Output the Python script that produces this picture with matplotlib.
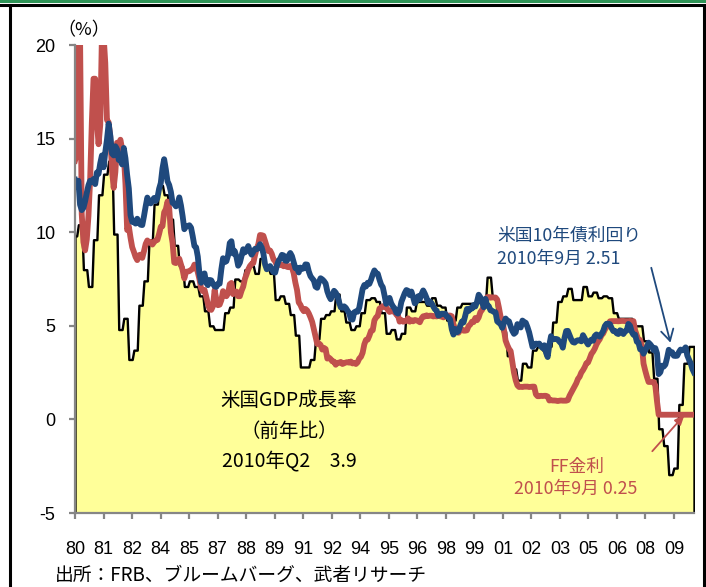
import numpy as np
import matplotlib.pyplot as plt
from matplotlib.patches import Rectangle
from matplotlib.lines import Line2D

# ---------------------------------------------------------------- data
# Nominal GDP, year-on-year % (quarterly, 1979Q4 .. 2010Q2)
gdp_yoy_q = [
    9.8,
    10.4, 8.0, 7.1, 9.6,     # 1980
    12.0, 13.1, 13.8, 9.9,   # 1981
    4.8, 5.4, 3.2, 3.7,      # 1982
    6.1, 7.4, 9.6, 11.5,     # 1983
    12.5, 12.0, 10.7, 9.3,   # 1984
    8.2, 7.1, 7.4, 7.1,      # 1985
    6.6, 5.8, 5.0, 4.8,      # 1986
    4.8, 5.7, 6.0, 7.5,      # 1987
    7.4, 8.0, 8.2, 7.8,      # 1988
    8.6, 8.1, 7.8, 6.4,      # 1989
    6.6, 6.2, 5.6, 4.5,      # 1990
    2.8, 2.8, 3.2, 4.3,      # 1991
    5.4, 5.6, 5.8, 6.7,      # 1992
    5.8, 5.2, 4.8, 5.0,      # 1993
    5.7, 6.4, 6.5, 6.3,      # 1994
    5.7, 4.6, 4.8, 4.3,      # 1995
    4.6, 6.0, 5.8, 6.3,      # 1996
    6.3, 6.1, 6.5, 6.1,      # 1997
    6.0, 5.3, 5.3, 6.0,      # 1998
    6.2, 6.2, 6.2, 6.5,      # 1999
    6.2, 7.6, 6.6, 5.5,      # 2000
    4.7, 3.4, 2.7, 2.1,      # 2001
    3.0, 2.8, 3.7, 3.9,      # 2002
    3.7, 3.9, 5.2, 6.3,      # 2003
    6.6, 7.0, 6.4, 6.4,      # 2004
    7.1, 6.6, 6.8, 6.5,      # 2005
    6.6, 6.5, 5.7, 5.4,      # 2006
    5.4, 5.4, 5.0, 5.0,      # 2007
    4.2, 3.6, 2.2, -0.5,     # 2008
    -1.4, -2.95, -2.6, 0.8,  # 2009
    3.0, 3.9,                # 2010
]

# Federal funds rate, % (monthly, 1980-01 .. 2010-09)
ff_rate = [
    13.82, 14.13, 20.50, 20.50, 10.98, 9.47, 9.03, 9.61, 10.87, 12.81, 15.85, 18.20,
    18.20, 15.93, 14.70, 15.72, 20.50, 20.50, 19.04, 16.00, 15.87, 15.08, 13.31, 12.37,
    13.22, 14.78, 14.68, 14.94, 14.45, 14.15, 12.59, 10.12, 10.31, 9.71, 9.20, 8.95,
    8.68, 8.51, 8.77, 8.80, 8.63, 8.98, 9.37, 9.56, 9.45, 9.48, 9.34, 9.47,
    9.56, 9.59, 9.91, 10.29, 10.32, 11.06, 11.23, 11.64, 11.30, 9.99, 9.43, 8.38,
    8.35, 8.50, 8.58, 8.27, 7.97, 7.53, 7.88, 7.90, 7.92, 7.99, 8.05, 8.27,
    8.14, 7.86, 7.48, 6.99, 6.85, 6.92, 6.56, 6.17, 5.89, 5.85, 6.04, 6.91,
    6.43, 6.10, 6.13, 6.37, 6.85, 6.73, 6.58, 6.73, 7.22, 7.29, 6.69, 6.77,
    6.83, 6.58, 6.58, 6.87, 7.09, 7.51, 7.75, 8.01, 8.19, 8.30, 8.35, 8.76,
    9.12, 9.36, 9.85, 9.84, 9.81, 9.53, 9.24, 8.99, 9.02, 8.84, 8.55, 8.45,
    8.23, 8.24, 8.28, 8.26, 8.18, 8.29, 8.15, 8.13, 8.20, 8.11, 7.81, 7.31,
    6.91, 6.25, 6.12, 5.91, 5.78, 5.90, 5.82, 5.66, 5.45, 5.21, 4.81, 4.43,
    4.03, 4.06, 3.98, 3.73, 3.82, 3.76, 3.25, 3.30, 3.22, 3.10, 3.09, 2.92,
    3.02, 3.03, 3.07, 2.96, 3.00, 3.04, 3.06, 3.03, 3.09, 2.99, 3.02, 2.96,
    3.05, 3.25, 3.34, 3.56, 4.01, 4.25, 4.26, 4.47, 4.73, 4.76, 5.29, 5.45,
    5.53, 5.92, 5.98, 6.05, 6.01, 6.00, 5.85, 5.74, 5.80, 5.76, 5.80, 5.60,
    5.56, 5.22, 5.31, 5.22, 5.24, 5.27, 5.40, 5.22, 5.30, 5.24, 5.31, 5.29,
    5.25, 5.19, 5.39, 5.51, 5.50, 5.56, 5.52, 5.54, 5.54, 5.50, 5.52, 5.50,
    5.56, 5.51, 5.49, 5.45, 5.49, 5.56, 5.54, 5.55, 5.51, 5.07, 4.83, 4.68,
    4.63, 4.76, 4.81, 4.74, 4.74, 4.76, 4.99, 5.07, 5.22, 5.20, 5.42, 5.30,
    5.45, 5.73, 5.85, 6.02, 6.27, 6.53, 6.54, 6.50, 6.52, 6.51, 6.51, 6.40,
    5.98, 5.49, 5.31, 4.80, 4.21, 3.97, 3.77, 3.65, 3.07, 2.49, 2.09, 1.82,
    1.73, 1.74, 1.73, 1.75, 1.75, 1.75, 1.73, 1.74, 1.75, 1.75, 1.34, 1.24,
    1.24, 1.26, 1.25, 1.26, 1.26, 1.22, 1.01, 1.03, 1.01, 1.01, 1.00, 0.98,
    1.00, 1.01, 1.00, 1.00, 1.00, 1.03, 1.26, 1.43, 1.61, 1.76, 1.93, 2.16,
    2.28, 2.50, 2.63, 2.79, 3.00, 3.04, 3.26, 3.50, 3.62, 3.78, 4.00, 4.16,
    4.29, 4.49, 4.59, 4.79, 4.94, 4.99, 5.24, 5.25, 5.25, 5.25, 5.25, 5.24,
    5.25, 5.26, 5.26, 5.25, 5.25, 5.25, 5.26, 5.25, 5.25, 4.76, 4.49, 4.24,
    4.24, 3.94, 2.98, 2.61, 2.28, 2.00, 2.00, 2.00, 2.00, 1.81, 0.97, 0.25,
    0.25, 0.25, 0.25, 0.25, 0.25, 0.25, 0.25, 0.25, 0.25, 0.25, 0.25, 0.25,
    0.25, 0.25, 0.25, 0.25, 0.25, 0.25, 0.25, 0.25, 0.25,
]

# US 10-year Treasury yield, % (monthly, 1980-01 .. 2010-09)
ust10y = [
    12.80, 12.41, 12.75, 11.47, 11.18, 11.30, 11.65, 12.10, 12.51, 12.75, 12.68, 12.84,
    12.57, 13.19, 13.12, 13.68, 14.10, 13.47, 14.28, 14.94, 15.80, 15.15, 14.20, 14.10,
    14.59, 14.43, 13.86, 13.87, 13.62, 14.50, 13.95, 13.06, 12.34, 10.91, 10.55, 10.54,
    10.46, 10.72, 10.51, 10.40, 10.38, 10.85, 11.38, 11.85, 11.65, 11.54, 11.69, 11.83,
    11.67, 11.84, 12.32, 12.63, 13.41, 13.90, 13.36, 12.72, 12.52, 12.16, 11.57, 11.50,
    11.38, 11.51, 11.86, 11.43, 10.85, 10.16, 10.31, 10.33, 10.37, 10.24, 9.78, 9.26,
    9.19, 8.70, 7.78, 7.30, 7.71, 7.80, 7.30, 7.17, 7.45, 7.43, 7.25, 7.11,
    7.08, 7.25, 7.25, 8.02, 8.61, 8.40, 8.45, 8.76, 9.42, 9.52, 8.86, 8.99,
    8.67, 8.21, 8.37, 8.72, 9.09, 8.92, 9.06, 9.26, 8.98, 8.80, 8.96, 9.11,
    9.09, 9.17, 9.36, 9.18, 8.86, 8.28, 8.02, 8.11, 8.19, 8.01, 7.87, 7.84,
    8.21, 8.47, 8.59, 8.79, 8.76, 8.48, 8.47, 8.75, 8.89, 8.72, 8.39, 8.08,
    8.09, 7.85, 8.11, 8.04, 8.07, 8.28, 8.27, 7.90, 7.65, 7.53, 7.42, 7.09,
    7.03, 7.34, 7.54, 7.48, 7.39, 7.26, 6.84, 6.59, 6.42, 6.59, 6.87, 6.77,
    6.60, 6.26, 5.98, 5.97, 6.04, 5.96, 5.81, 5.68, 5.36, 5.33, 5.72, 5.77,
    5.75, 5.97, 6.48, 6.97, 7.18, 7.10, 7.30, 7.24, 7.46, 7.74, 7.96, 7.81,
    7.78, 7.47, 7.20, 7.06, 6.63, 6.17, 6.28, 6.49, 6.20, 6.04, 5.93, 5.71,
    5.65, 5.81, 6.27, 6.51, 6.74, 6.91, 6.87, 6.64, 6.83, 6.53, 6.20, 6.30,
    6.58, 6.42, 6.69, 6.89, 6.71, 6.49, 6.22, 6.30, 6.21, 6.03, 5.88, 5.81,
    5.54, 5.57, 5.65, 5.64, 5.65, 5.50, 5.46, 5.34, 4.81, 4.53, 4.83, 4.65,
    4.72, 5.00, 5.23, 5.18, 5.54, 5.90, 5.79, 5.94, 5.92, 6.11, 6.03, 6.28,
    6.66, 6.52, 6.26, 5.99, 6.44, 6.10, 6.05, 5.83, 5.80, 5.74, 5.72, 5.24,
    5.16, 5.10, 4.89, 5.14, 5.39, 5.28, 5.24, 4.97, 4.73, 4.57, 4.65, 5.09,
    5.04, 4.91, 5.28, 5.21, 5.16, 4.93, 4.65, 4.26, 3.87, 3.94, 4.05, 4.03,
    4.05, 3.90, 3.81, 3.96, 3.57, 3.33, 3.98, 4.45, 4.27, 4.29, 4.30, 4.27,
    4.15, 4.08, 3.83, 4.35, 4.72, 4.73, 4.50, 4.28, 4.13, 4.10, 4.19, 4.23,
    4.22, 4.17, 4.50, 4.34, 4.14, 4.00, 4.18, 4.26, 4.20, 4.46, 4.54, 4.47,
    4.42, 4.57, 4.72, 4.99, 5.11, 5.11, 5.09, 4.88, 4.72, 4.73, 4.60, 4.56,
    4.76, 4.72, 4.56, 4.69, 4.75, 5.10, 5.00, 4.67, 4.52, 4.53, 4.15, 4.10,
    3.74, 3.74, 3.51, 3.68, 3.88, 4.10, 4.01, 3.89, 3.69, 3.81, 3.53, 2.42,
    2.52, 2.87, 2.82, 2.93, 3.29, 3.72, 3.56, 3.59, 3.40, 3.39, 3.40, 3.59,
    3.73, 3.69, 3.73, 3.85, 3.42, 3.20, 3.01, 2.70, 2.51,
]

tick_labels = ["80", "81", "82", "84", "85", "87", "88", "89", "91", "92", "94",
               "95", "96", "98", "99", "01", "02", "03", "05", "06", "08", "09"]
tick_step_years = 1.413

# ---------------------------------------------------------------- series
n_months = len(ust10y)
x = 1980 + np.arange(n_months) / 12.0
ff = np.array(ff_rate)
bond = np.array(ust10y)
# each quarterly figure is carried on the monthly axis from two months after quarter start
q_index = np.minimum((np.arange(n_months) + 1) // 3, len(gdp_yoy_q) - 1)
gdp = np.array(gdp_yoy_q)[q_index]

# ---------------------------------------------------------------- figure
W, H = 706, 587
fig = plt.figure(figsize=(W / 100, H / 100), dpi=100)
fig.patch.set_facecolor("white")

def fx(px):
    return px / W

def fy(py):
    return 1 - py / H

ax = fig.add_axes([fx(75), fy(513), fx(694) - fx(75), fy(45) - fy(513)])
ax.set_xlim(x[0], x[-1])
ax.set_ylim(-5, 20)

JP = ["Noto Sans CJK JP", "DejaVu Sans"]
NUM = ["Liberation Sans", "DejaVu Sans"]
GRAY = "#868686"
RED = "#C0504D"
BLUE = "#1F497D"

# GDP area with black outline
ax.fill_between(x, gdp, -5, facecolor="#FFFF99", edgecolor="black",
                linewidth=1.7, zorder=1)
ax.plot(x, ff, color=RED, lw=4.2, solid_joinstyle="round", zorder=3)
ax.plot(x, bond, color=BLUE, lw=4.2, solid_joinstyle="round", zorder=4)

for side in ("top", "right"):
    ax.spines[side].set_visible(False)
for side in ("left", "bottom"):
    ax.spines[side].set_color(GRAY)
    ax.spines[side].set_linewidth(1.6)
    ax.spines[side].set_zorder(5)

ax.set_yticks([-5, 0, 5, 10, 15, 20])
ax.set_yticklabels(["-5", "0", "5", "10", "15", "20"], family=NUM, fontsize=13)
ticks_x = 1980 + tick_step_years * np.arange(len(tick_labels))
ax.set_xticks(ticks_x)
ax.set_xticklabels(tick_labels, family=NUM, fontsize=13)
ax.tick_params(axis="y", direction="out", length=4, width=1.6, color=GRAY, pad=10)
ax.tick_params(axis="x", direction="out", length=4, width=1.6, color=GRAY, pad=16)
ax.set_facecolor("white")

# unit label
fig.text(fx(57), fy(30), "（%）", family=JP, fontsize=13, va="center", ha="left")

# annotations
gdp_kw = dict(family=JP, fontsize=14, ha="center", va="center")
ax.text(1990.6, 1.0, "米国GDP成長率", **gdp_kw)
ax.text(1990.6, -0.65, "（前年比）", **gdp_kw)
ax.text(1990.6, -2.2, "2010年Q2　3.9", **gdp_kw)

fig.text(fx(497), fy(236), "米国10年債利回り", family=JP, fontsize=12.8, color=BLUE,
         ha="left", va="center")
fig.text(fx(497), fy(259), "2010年9月 2.51", family=JP, fontsize=12.8, color=BLUE,
         ha="left", va="center")
fig.text(fx(577), fy(467), "FF金利", family=JP, fontsize=12.8, color=RED,
         ha="center", va="center")
fig.text(fx(576), fy(489), "2010年9月 0.25", family=JP, fontsize=12.8, color=RED,
         ha="center", va="center")

ax.annotate("", xy=(2009.5, 4.1), xytext=(2008.55, 8.1),
            arrowprops=dict(arrowstyle="->,head_length=0.8,head_width=0.45",
                            color=BLUE, lw=1.3, shrinkA=0, shrinkB=0), zorder=6)
ax.annotate("", xy=(2010.2, 0.25), xytext=(2008.6, -1.7),
            arrowprops=dict(arrowstyle="-|>,head_length=0.6,head_width=0.25",
                            color=RED, lw=1.3, shrinkA=0, shrinkB=0), zorder=6)

# source note
fig.text(fx(55), fy(575), "出所：FRB、ブルームバーグ、武者リサーチ", family=JP,
         fontsize=13.5, ha="left", va="center")

# frame
fig.add_artist(Rectangle((0, fy(3)), 1, fy(0) - fy(3), transform=fig.transFigure,
                         facecolor="#2E9457", edgecolor="none"))
fig.add_artist(Line2D([0, 1], [fy(4.5), fy(4.5)], transform=fig.transFigure,
                      color="black", lw=2.2))
fig.add_artist(Line2D([fx(10), fx(10)], [0, fy(4.5)], transform=fig.transFigure,
                      color="black", lw=2.2))
fig.add_artist(Line2D([fx(703.5), fx(703.5)], [0, fy(4.5)], transform=fig.transFigure,
                      color="black", lw=2.2))

fig.savefig("out.png", dpi=100)
